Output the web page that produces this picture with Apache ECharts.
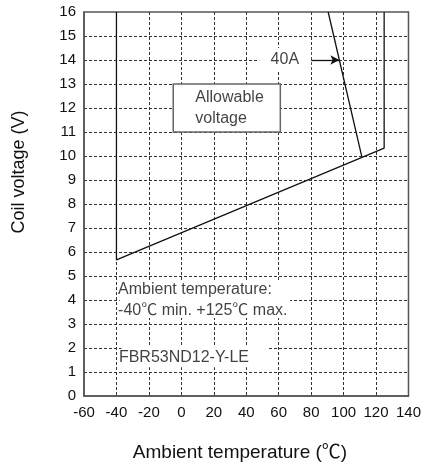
<!DOCTYPE html>
<html>
<head>
<meta charset="utf-8">
<script src="https://cdn.jsdelivr.net/npm/echarts@6/dist/echarts.min.js"></script>
<style>
  html, body { margin: 0; padding: 0; background: #fff; }
  #chart { width: 424px; height: 468px; }
</style>
</head>
<body>
<div id="chart"></div>
<script>
// allowable-voltage envelope (deg C, V)
var envTemp = [-40, -40, 125, 125];
var envVolt = [16, 5.67, 10.33, 16];

// 40A current limit line
var lim40Temp = [90.5, 111.3];
var lim40Volt = [16, 9.95];

// arrow pointing at the 40A line
var arrowTemp = [80.3, 97.4];
var arrowVolt = [14, 14];

// annotation texts, anchored at their left edge
var noteText = ['40A', 'Allowable\nvoltage', 'Ambient temperature:\n-40\u2103 min. +125\u2103 max.', 'FBR53ND12-Y-LE'];
var noteTemp = [55, 8.6, -39, -38.5];
var noteVolt = [14, 11.98, 3.98, 1.58];

// boxes behind the texts [x0, y0, x1, y1]
var boxAllowable = [-5, 13, 61, 11];
var box40A = [48, 14.5, 80, 13.5];
var boxAmbient = [-38, 4.75, 67, 3.25];
var boxModel = [-37, 2.05, 54, 1.2];

var FONT = '"Liberation Sans", Arial, "Noto Sans CJK SC", sans-serif';

function pairs(xs, ys) {
  return xs.map(function (x, i) { return [x, ys[i]]; });
}

function area(b, style) {
  return [
    { coord: [b[0], b[1]], itemStyle: style },
    { coord: [b[2], b[3]] }
  ];
}

var chart = echarts.init(document.getElementById('chart'));

var plainBox = { color: '#fff', borderWidth: 0 };
var framedBox = { color: '#fff', borderColor: '#666', borderWidth: 1.5 };

chart.setOption({
  animation: false,
  textStyle: { fontFamily: FONT },
  grid: {
    left: 84, right: 12, top: 12, bottom: 72,
    show: true, borderColor: '#555', borderWidth: 1.5,
    backgroundColor: 'transparent'
  },
  xAxis: {
    type: 'value', min: -60, max: 140, interval: 20,
    axisLine: { show: true, onZero: false, lineStyle: { color: '#555', width: 1.5 } },
    axisTick: { show: false },
    axisLabel: { color: '#111', fontSize: 15, margin: 9, fontFamily: FONT },
    splitLine: { show: true, showMinLine: false, showMaxLine: false,
      lineStyle: { color: '#333', width: 1, type: [3, 2] } }
  },
  yAxis: {
    type: 'value', min: 0, max: 16, interval: 1,
    axisLine: { show: true, onZero: false, lineStyle: { color: '#555', width: 1.5 } },
    axisTick: { show: false },
    axisLabel: { color: '#111', fontSize: 15, margin: 8, fontFamily: FONT },
    splitLine: { show: true, showMinLine: false, showMaxLine: false,
      lineStyle: { color: '#333', width: 1, type: [3, 2] } }
  },
  graphic: [
    {
      type: 'text', x: 240, y: 453,
      style: { text: 'Ambient temperature (\u2103)', font: '19px ' + FONT, fill: '#111',
        align: 'center', verticalAlign: 'middle' }
    },
    {
      type: 'text', x: 19, y: 172, rotation: Math.PI / 2,
      style: { text: 'Coil voltage (V)', font: '18px ' + FONT, fill: '#111',
        align: 'center', verticalAlign: 'middle' }
    }
  ],
  series: [
    {
      type: 'line',
      data: pairs(envTemp, envVolt),
      showSymbol: false,
      lineStyle: { color: '#111', width: 1.3 },
      silent: true,
      z: 3,
      markArea: {
        silent: true,
        z: 1,
        data: [
          area(boxAllowable, framedBox),
          area(box40A, plainBox),
          area(boxAmbient, plainBox),
          area(boxModel, plainBox)
        ]
      }
    },
    {
      type: 'line',
      data: pairs(lim40Temp, lim40Volt),
      showSymbol: false,
      lineStyle: { color: '#111', width: 1.3 },
      silent: true,
      z: 3,
      markLine: {
        silent: true,
        symbol: ['none', 'arrow'],
        symbolSize: [7, 9],
        label: { show: false },
        lineStyle: { color: '#111', width: 1.3, type: 'solid' },
        data: [[
          { coord: [arrowTemp[0], arrowVolt[0]] },
          { coord: [arrowTemp[1], arrowVolt[1]] }
        ]]
      }
    },
    {
      type: 'scatter',
      symbolSize: 0,
      silent: true,
      z: 4,
      data: noteText.map(function (t, i) { return { value: [noteTemp[i], noteVolt[i]], name: t }; }),
      label: {
        show: true,
        position: 'inside',
        align: 'left',
        verticalAlign: 'middle',
        color: '#111',
        fontSize: 16,
        lineHeight: 21,
        fontFamily: FONT,
        formatter: function (p) { return p.name; }
      }
    }
  ]
});
</script>
</body>
</html>
